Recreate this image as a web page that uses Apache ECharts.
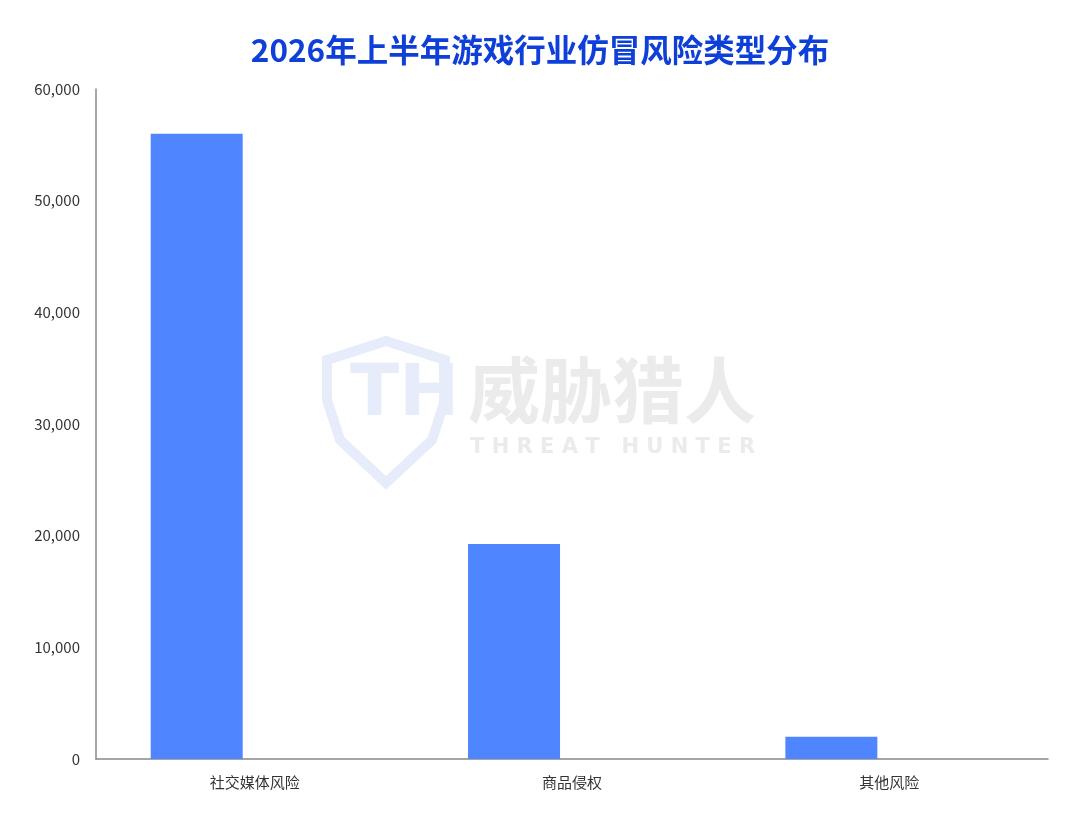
<!DOCTYPE html>
<html>
<head>
<meta charset="utf-8">
<script src="https://cdn.jsdelivr.net/npm/echarts@6/dist/echarts.min.js"></script>
<style>html,body{margin:0;padding:0;background:#fff;}#c{width:1080px;height:823px;}</style>
</head>
<body>
<div id="c"></div>
<script>
const titleText = '2026年上半年游戏行业仿冒风险类型分布';
const categories = ['社交媒体风险', '商品侵权', '其他风险'];
const values = [56000, 19250, 2000];
const emptyValues = ['-', '-', '-'];

const chart = echarts.init(document.getElementById('c'));
const font = '"Noto Sans CJK SC", "Noto Sans", sans-serif';
chart.setOption({
  backgroundColor: '#fff',
  animation: false,
  title: {
    text: titleText,
    left: 'center',
    top: 29,
    textStyle: { fontFamily: font, fontSize: 31.5, fontWeight: 'bold', color: '#0E3FD8' }
  },
  grid: { left: 96, right: 32, top: 89, bottom: 64, containLabel: false },
  graphic: [
    {
      type: 'polygon',
      z: 0,
      shape: { points: [[327,360],[386,341],[445,360],[445,400],[432,440],[386,483],[340,440],[327,400]] },
      style: { fill: 'none', stroke: '#E6ECFA', lineWidth: 10 }
    },
    {
      type: 'text', z: 0, left: 350, top: 360,
      style: { text: 'TH', font: 'bold 72px "DejaVu Sans", sans-serif', fill: '#E6ECFA' }
    },
    {
      type: 'text', z: 0, left: 468, top: 354,
      style: { text: '威胁猎人', font: 'bold 72px "Noto Sans CJK SC", sans-serif', fill: '#EBEBEB' }
    },
    {
      type: 'text', z: 0, left: 470, top: 437,
      style: { text: 'T H R E A T   H U N T E R', font: 'bold 21px "DejaVu Sans", sans-serif', fill: '#EBEBEB' }
    }
  ],
  xAxis: {
    type: 'category',
    data: categories,
    axisLine: { show: true, lineStyle: { color: '#888', width: 1.5 } },
    axisTick: { show: false },
    axisLabel: { fontFamily: font, fontSize: 15, color: '#333', margin: 16 }
  },
  yAxis: {
    type: 'value',
    min: 0,
    max: 60000,
    interval: 10000,
    axisLine: { show: true, lineStyle: { color: '#888', width: 1.5 } },
    axisTick: { show: false },
    splitLine: { show: false },
    axisLabel: {
      fontFamily: font, fontSize: 15, color: '#333', margin: 16,
      formatter: v => v.toLocaleString('en-US')
    }
  },
  series: [
    { type: 'bar', data: values, barWidth: 92, barGap: '26%', itemStyle: { color: '#4F86FF' }, z: 2 },
    { type: 'bar', data: emptyValues, barWidth: 92, itemStyle: { color: '#4F86FF' } }
  ]
});
</script>
</body>
</html>
